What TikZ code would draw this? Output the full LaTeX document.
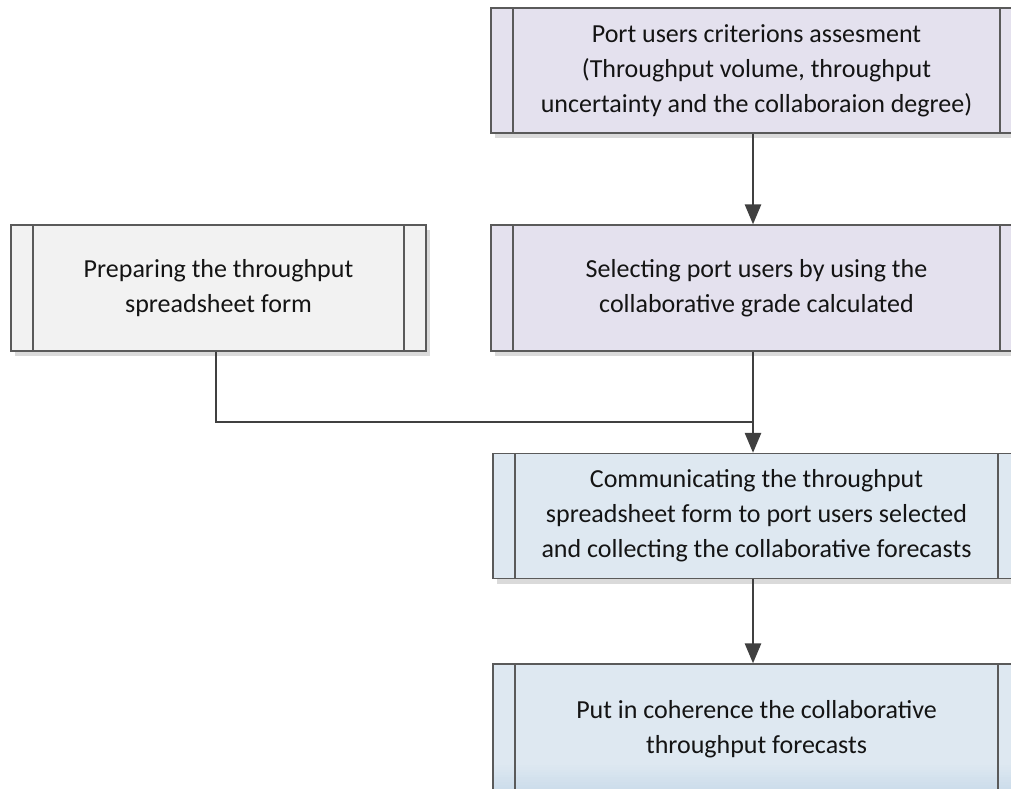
\documentclass[tikz,border=0pt]{standalone}
\usepackage{fontspec}
\setmainfont{Carlito}
\usetikzlibrary{arrows.meta,shadows}
\definecolor{lav}{HTML}{E4E1EE}
\definecolor{grayfill}{HTML}{F2F2F2}
\definecolor{bluefill}{HTML}{DEE8F1}
\definecolor{bluedark}{HTML}{C9DBEA}
\definecolor{edge}{HTML}{5A5A5A}
\definecolor{shade}{HTML}{DADADA}
\definecolor{conn}{HTML}{404040}
\definecolor{txt}{HTML}{141414}
\tikzset{
  procbase/.style={draw=edge, line width=1.3pt, rectangle, align=center,
    text=txt, font=\fontsize{26}{35}\selectfont, inner sep=0pt,
    drop shadow={shadow xshift=4pt, shadow yshift=-5pt, fill=shade, opacity=1}},
  procbox/.style={procbase,
    path picture={
      \draw[edge, line width=1.3pt] ([xshift=22pt]path picture bounding box.north west) -- ([xshift=22pt]path picture bounding box.south west);
      \draw[edge, line width=1.3pt] ([xshift=-22pt]path picture bounding box.north east) -- ([xshift=-22pt]path picture bounding box.south east);
    }},
  procboxgrad/.style={procbase,
    path picture={
      \foreach \i in {1,...,12}{
        \pgfmathsetmacro{\pc}{\i*100/12}
        \fill[bluedark!\pc!bluefill] ([yshift={30pt-\i*2.5pt}]path picture bounding box.south west) rectangle ([yshift={30pt-(\i-1)*2.5pt+0.2pt}]path picture bounding box.south east);
      }
      \draw[edge, line width=1.3pt] ([xshift=22pt]path picture bounding box.north west) -- ([xshift=22pt]path picture bounding box.south west);
      \draw[edge, line width=1.3pt] ([xshift=-22pt]path picture bounding box.north east) -- ([xshift=-22pt]path picture bounding box.south east);
    }},
  link/.style={draw=conn, line width=2.7pt},
  arrowlink/.style={link, -{Triangle[length=20pt,width=16pt]}}
}
\begin{document}
\begin{tikzpicture}[x=1pt,y=-1pt]
\useasboundingbox (0,0) rectangle (1011,788);
\clip (0,0) rectangle (1011,788);
\fill[white] (0,0) rectangle (1011,788);
\node[procbox, fill=lav, minimum width=531pt, minimum height=125pt] (assess) at (756.5,70.5)
  {Port users criterions assesment\\(Throughput volume, throughput\\uncertainty and the collaboraion degree)};
\node[procbox, fill=grayfill, minimum width=415pt, minimum height=126pt] (prep) at (218.5,288)
  {Preparing the throughput\\spreadsheet form};
\node[procbox, fill=lav, minimum width=531pt, minimum height=126pt] (select) at (756.5,288)
  {Selecting port users by using the\\collaborative grade calculated};
\node[procbox, fill=bluefill, minimum width=527pt, minimum height=125pt] (comm) at (756.5,516)
  {Communicating the throughput\\spreadsheet form to port users selected\\and collecting the collaborative forecasts};
\node[procboxgrad, fill=bluefill, minimum width=527pt, minimum height=131pt] (coh) at (756.5,729.5)
  {Put in coherence the collaborative\\throughput forecasts};
\coordinate (joint) at (753,422);
\draw[arrowlink] (assess.south -| joint) -- (select.north -| joint);
\draw[link] (prep.south -| 216,0) |- (joint);
\draw[arrowlink] (select.south -| joint) -- (comm.north -| joint);
\draw[arrowlink] (comm.south -| joint) -- (coh.north -| joint);
\end{tikzpicture}
\end{document}
